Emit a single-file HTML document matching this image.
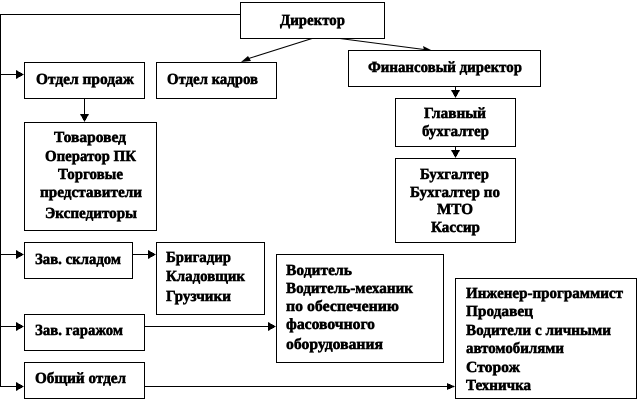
<!DOCTYPE html>
<html>
<head>
<meta charset="utf-8">
<style>
html,body{margin:0;padding:0;background:#fff;width:640px;height:402px;overflow:hidden}
svg{display:block}
rect{fill:#fff;stroke:#000;stroke-width:1}
line{stroke:#000;stroke-width:1}
polygon{fill:#000}
text{font-family:"Liberation Serif","Noto Serif CJK SC",serif;font-weight:bold;font-size:15.5px;fill:#000;stroke:#000;stroke-width:.55;text-rendering:geometricPrecision}
</style>
</head>
<body>
<svg width="640" height="402" viewBox="0 0 640 402" shape-rendering="crispEdges">
<line x1="0.5" y1="14.5" x2="0.5" y2="386.5"/>
<line x1="0" y1="14.5" x2="240" y2="14.5"/>
<line x1="0" y1="74.5" x2="18" y2="74.5"/>
<line x1="0" y1="254.5" x2="18" y2="254.5"/>
<line x1="0" y1="326.5" x2="18" y2="326.5"/>
<line x1="0" y1="386.5" x2="18" y2="386.5"/>
<line x1="132" y1="254.5" x2="150" y2="254.5"/>
<line x1="144" y1="326.5" x2="270" y2="326.5"/>
<line x1="144" y1="386.5" x2="449" y2="386.5"/>
<line x1="84.5" y1="98" x2="84.5" y2="116"/>
<line x1="455.5" y1="86" x2="455.5" y2="92"/>
<line x1="455.5" y1="146" x2="455.5" y2="152"/>
<g shape-rendering="auto">
<line x1="312" y1="38.5" x2="247" y2="59"/>
<line x1="340" y1="38.5" x2="424" y2="49.5"/>
<polygon points="241,62 248,56 251,61"/>
<polygon points="431,50 423,46 424,50"/>
</g>
<polygon points="24,74.5 16,70 16,79"/>
<polygon points="24,254.5 16,250 16,259"/>
<polygon points="24,326.5 16,322 16,331"/>
<polygon points="24,386.5 16,382 16,391"/>
<polygon points="156,254.5 148,250 148,259"/>
<polygon points="276,326.5 268,322 268,331"/>
<polygon points="455,386.5 447,383 447,390"/>
<polygon points="84.5,122 80,114 89,114"/>
<polygon points="455.5,98 451,90 460,90"/>
<polygon points="455.5,158 451,150 460,150"/>

<rect x="240.5" y="2.5" width="144" height="36"/>
<rect x="24.5" y="62.5" width="120" height="36"/>
<rect x="156.5" y="62.5" width="120" height="36"/>
<rect x="348.5" y="50.5" width="192" height="36"/>
<rect x="395.5" y="98.5" width="120" height="48"/>
<rect x="395.5" y="158.5" width="120" height="84"/>
<rect x="24.5" y="122.5" width="132" height="108"/>
<rect x="24.5" y="242.5" width="108" height="36"/>
<rect x="156.5" y="242.5" width="108" height="72"/>
<rect x="276.5" y="254.5" width="167" height="108"/>
<rect x="455.5" y="278.5" width="181" height="120"/>
<rect x="24.5" y="314.5" width="120" height="36"/>
<rect x="24.5" y="362.5" width="120" height="36"/>

<text x="280" y="25" textLength="65" lengthAdjust="spacingAndGlyphs">Директор</text>
<text x="36" y="84" textLength="98" lengthAdjust="spacingAndGlyphs">Отдел продаж</text>
<text x="167" y="84" textLength="91" lengthAdjust="spacingAndGlyphs">Отдел кадров</text>
<text x="368" y="72" textLength="154" lengthAdjust="spacingAndGlyphs">Финансовый директор</text>
<text x="424" y="118" textLength="62" lengthAdjust="spacingAndGlyphs">Главный</text>
<text x="422" y="136" textLength="67" lengthAdjust="spacingAndGlyphs">бухгалтер</text>
<text x="420" y="179" textLength="69" lengthAdjust="spacingAndGlyphs">Бухгалтер</text>
<text x="410" y="197" textLength="90" lengthAdjust="spacingAndGlyphs">Бухгалтер по</text>
<text x="437" y="214" textLength="36" lengthAdjust="spacingAndGlyphs">МТО</text>
<text x="431" y="232" textLength="49" lengthAdjust="spacingAndGlyphs">Кассир</text>
<text x="54" y="142" textLength="72" lengthAdjust="spacingAndGlyphs">Товаровед</text>
<text x="45" y="161" textLength="91" lengthAdjust="spacingAndGlyphs">Оператор ПК</text>
<text x="58" y="179" textLength="65" lengthAdjust="spacingAndGlyphs">Торговые</text>
<text x="40" y="197" textLength="102" lengthAdjust="spacingAndGlyphs">представители</text>
<text x="45" y="218" textLength="92" lengthAdjust="spacingAndGlyphs">Экспедиторы</text>
<text x="35" y="264" textLength="86" lengthAdjust="spacingAndGlyphs">Зав. складом</text>
<text x="166" y="262" textLength="65" lengthAdjust="spacingAndGlyphs">Бригадир</text>
<text x="166" y="281" textLength="79" lengthAdjust="spacingAndGlyphs">Кладовщик</text>
<text x="166" y="301" textLength="65" lengthAdjust="spacingAndGlyphs">Грузчики</text>
<text x="35" y="335" textLength="88" lengthAdjust="spacingAndGlyphs">Зав. гаражом</text>
<text x="35" y="383" textLength="91" lengthAdjust="spacingAndGlyphs">Общий отдел</text>
<text x="286" y="275" textLength="66" lengthAdjust="spacingAndGlyphs">Водитель</text>
<text x="286" y="293" textLength="127" lengthAdjust="spacingAndGlyphs">Водитель-механик</text>
<text x="286" y="311" textLength="113" lengthAdjust="spacingAndGlyphs">по обеспечению</text>
<text x="286" y="329" textLength="89" lengthAdjust="spacingAndGlyphs">фасовочного</text>
<text x="286" y="349" textLength="97" lengthAdjust="spacingAndGlyphs">оборудования</text>
<text x="466" y="298" textLength="157" lengthAdjust="spacingAndGlyphs">Инженер-программист</text>
<text x="466" y="316" textLength="67" lengthAdjust="spacingAndGlyphs">Продавец</text>
<text x="466" y="335" textLength="145" lengthAdjust="spacingAndGlyphs">Водители с личными</text>
<text x="466" y="353" textLength="98" lengthAdjust="spacingAndGlyphs">автомобилями</text>
<text x="466" y="372" textLength="54" lengthAdjust="spacingAndGlyphs">Сторож</text>
<text x="466" y="390" textLength="65" lengthAdjust="spacingAndGlyphs">Техничка</text>
</svg>
</body>
</html>
